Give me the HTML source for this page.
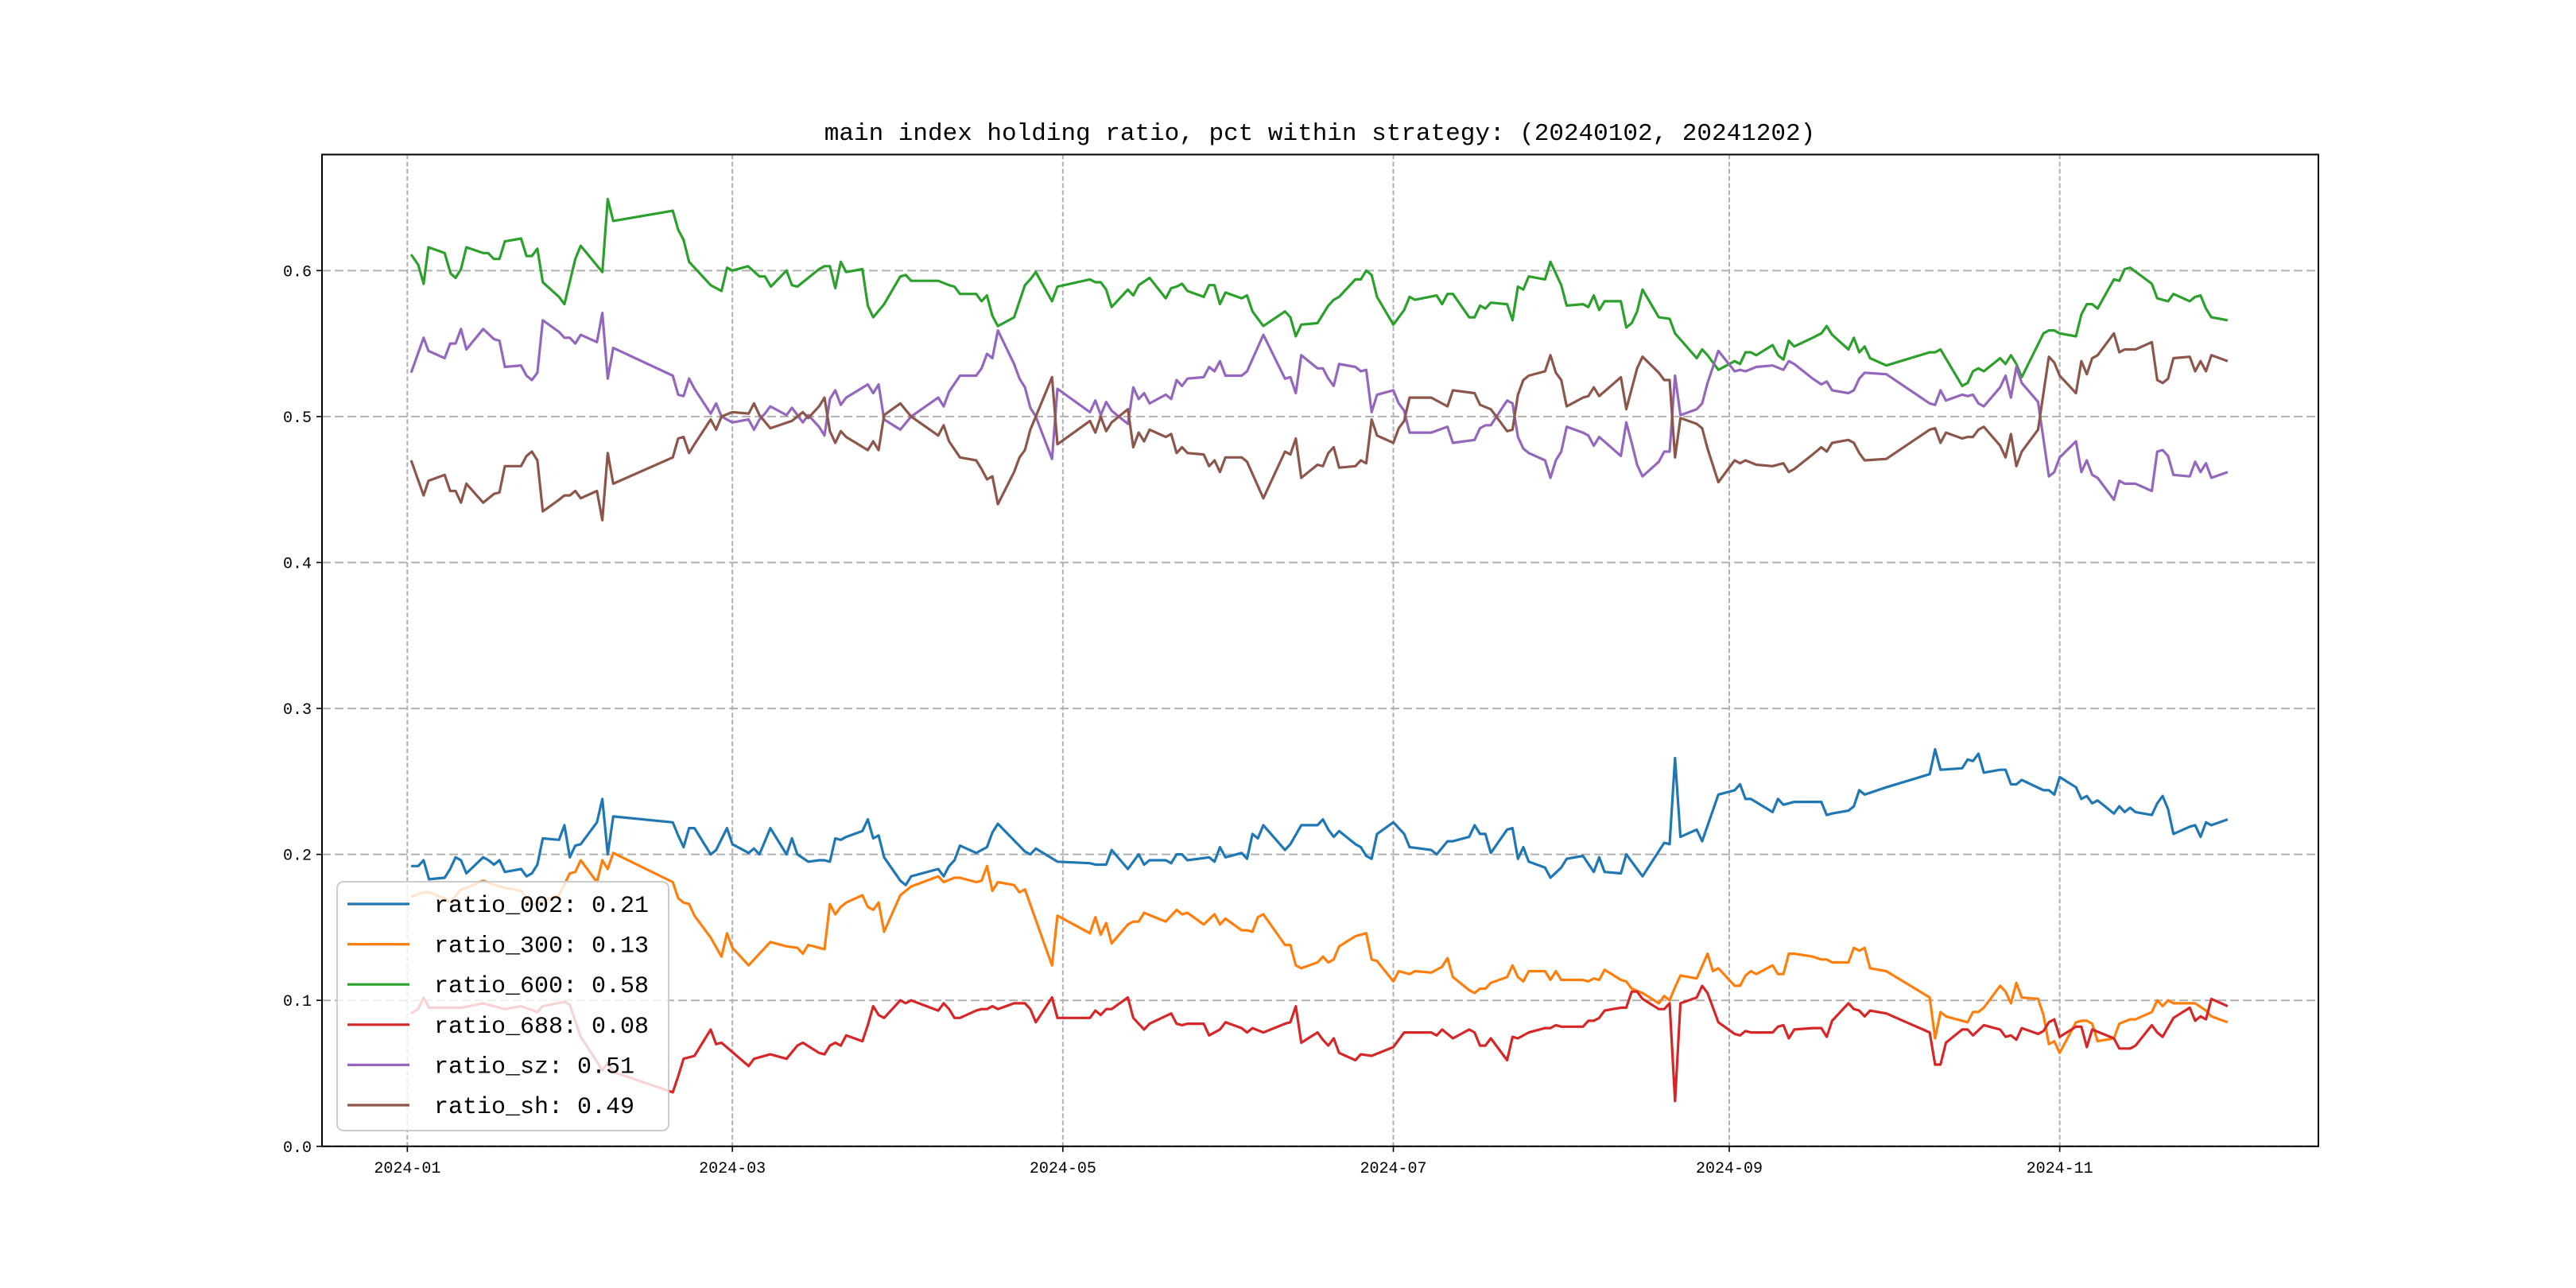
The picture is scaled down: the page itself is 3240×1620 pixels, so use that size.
<!DOCTYPE html>
<html><head><meta charset="utf-8"><style>
html,body{margin:0;padding:0;background:#fff;}
svg{display:block;}
text{font-family:"Liberation Mono","WenQuanYi Zen Hei",monospace;fill:#000;}
</style></head><body>
<svg id="chart" width="3240" height="1620" viewBox="0 0 3240 1620" xmlns="http://www.w3.org/2000/svg">
<rect width="3240" height="1620" fill="#fff"/>
<text x="1660" y="176" font-size="31" text-anchor="middle">main index holding ratio, pct within strategy: (20240102, 20241202)</text>
<g id="grid"></g><g id="series"></g><g id="axes"></g><g id="legend"></g>
</svg>
<script>
// day offsets since 2024-01-01
const yTicks = [0, 0.1, 0.2, 0.3, 0.4, 0.5, 0.6];
const yTickLabels = ["0.0","0.1","0.2","0.3","0.4","0.5","0.6"];
const xTicks = [0, 60, 121, 182, 244, 305];
const xTickLabels = ["2024-01","2024-03","2024-05","2024-07","2024-09","2024-11"];
const seriesNames = ["ratio_002","ratio_300","ratio_600","ratio_688","ratio_sz","ratio_sh"];
const legendValues = ["0.21","0.13","0.58","0.08","0.51","0.49"];

const d002 = [0.7,2,3,4,6.9,7.9,8.9,9.9,10.9,14,15,16,17,18,21,22,23,24,25,28,29,30,31,32,35,36,37,38,49,50,51,52,53,56,57,59,60,63,64,65,67,70,71,72,74,76,77,78,79,80,81,84,85,86,87,88,91,92,93,98,99,100,101,102,105,106,107,108,109,114,115,116,120,126,127,129,130,133,135,136,137,140,141,142,143,144,148,149,150,151,154,155,156,157,158,162,163,165,168,169,170,171,172,175,176,177,178,179,182,184,185,189,190,192,193,196,197,198,199,200,203,204,205,206,207,210,211,213,214,217,219,220,221,224,225,227,228,232,233,234,235,238,239,242,245,246,247,248,252,253,254,256,259.4,261,262,263,266,267,268,269,273,281,282,283,287,288,289,290,291,294,295,296,297,298,302,303,304,305,308,309,310,311,312,315,316,317,318,319,322,323,324,325,326,329,330,331,332,333,336];
const v002 = [.192,.192,.196,.183,.184,.190,.198,.196,.187,.198,.196,.193,.196,.188,.190,.185,.187,.193,.211,.210,.220,.198,.206,.207,.222,.238,.200,.226,.222,.213,.205,.218,.218,.200,.203,.218,.207,.201,.204,.200,.218,.200,.211,.200,.195,.196,.196,.195,.211,.210,.212,.216,.224,.211,.213,.198,.182,.179,.185,.190,.185,.192,.196,.206,.201,.203,.205,.215,.221,.202,.200,.204,.195,.194,.193,.193,.203,.190,.200,.193,.196,.196,.194,.200,.200,.196,.198,.195,.205,.198,.201,.197,.214,.211,.220,.203,.207,.220,.220,.224,.217,.212,.216,.207,.205,.199,.197,.214,.222,.214,.205,.203,.200,.209,.209,.212,.220,.214,.214,.201,.217,.218,.197,.205,.195,.191,.184,.191,.197,.199,.188,.198,.188,.187,.200,.190,.185,.208,.207,.266,.212,.217,.209,.241,.244,.248,.238,.238,.229,.238,.234,.236,.236,.236,.227,.228,.230,.233,.244,.241,.246,.255,.272,.258,.259,.265,.264,.269,.256,.258,.258,.248,.248,.251,.244,.244,.241,.253,.246,.238,.240,.235,.237,.228,.233,.229,.232,.229,.227,.235,.240,.231,.214,.219,.220,.212,.222,.220,.224];

const d300 = [0.7,3,4,6.9,7.9,9.9,10.9,14,17,21,23,25,28,30,31,32,35,36,37,38,49,50,51,52,53,56,58,59,60,63,64,67,70,72,73,74,76,77,78,79,80,81,84,85,86,87,88,91,93,98,99,101,102,105,106,107,108,109,112,113,114,119,120,126,127,128,129,130,133,134,135,136,140,142,143,144,147,149,150,151,154,155,156,157,158,162,163,164,165,168,169,170,171,172,175,177,178,179,182,183,185,186,189,191,192,193,196,197,198,199,200,203,204,205,206,207,210,211,212,213,217,218,219,220,221,224,225,226,228,231,232,233,234,235,238,240,241,242,245,246,247,248,249,252,253,254,255,256,259.4,261,262,263,266,267,268,269,270,273,281,282,283,284,287,288,289,290,291,294,295,296,297,298,301,302,303,304,305,308,309,310,311,312,315,316,318,319,322,323,324,325,326,329,330,332,333,336];
const v300 = [.171,.174,.174,.170,.167,.176,.177,.182,.178,.175,.165,.168,.172,.187,.188,.196,.181,.196,.190,.201,.181,.170,.167,.166,.158,.143,.130,.146,.136,.124,.128,.140,.137,.136,.132,.138,.136,.135,.166,.159,.164,.167,.172,.164,.162,.167,.147,.172,.178,.185,.181,.184,.184,.181,.182,.192,.175,.181,.179,.174,.176,.124,.158,.146,.157,.145,.153,.139,.152,.154,.154,.160,.154,.162,.159,.160,.152,.159,.152,.156,.148,.148,.147,.157,.159,.138,.138,.124,.122,.126,.130,.126,.128,.137,.144,.146,.128,.127,.113,.120,.118,.120,.119,.123,.129,.116,.107,.105,.108,.108,.112,.116,.124,.116,.113,.120,.120,.114,.120,.114,.114,.113,.115,.114,.121,.114,.113,.108,.105,.098,.103,.100,.109,.117,.115,.132,.120,.122,.110,.110,.117,.120,.118,.124,.118,.118,.132,.132,.130,.128,.128,.126,.126,.136,.134,.136,.122,.120,.102,.074,.092,.089,.086,.085,.092,.092,.095,.110,.106,.098,.112,.102,.101,.090,.070,.072,.064,.085,.086,.086,.084,.072,.074,.084,.087,.087,.092,.100,.096,.100,.098,.098,.098,.093,.089,.085];

const d600 = [0.7,2,3,3.9,6.9,8,8.9,9.9,10.9,14,14.9,16,17,18,21,22,23,24,25,28,29,31,32,36,37,38,49,50,51,52,56,58,59,60,62.9,65,66,67.1,70,71,72,74,76,77,78,79,80,81,84,85,86,88,91,92,93,98,100,101,102,105,106,107,108,109,112,114,115,116,119,120,126,127,128,129,130,133,134,135,137,140,141,142,143,144,147,148,149,150,151,154,155,156,158,162,163,164,165,168,170,171,172,175,176,177,178,179,182,184,185,186,190,191,192,193,196,197,198,199,200,203,204,205,206,207,210,211,213,214,217,218,219,220,221,224,225,226,227,228,231,233,234,238,239,240,242,245,246,247,248,249,252,253,254,255,256,259.4,261,262,263,266,267,268,269,270,273,281,282,283,287,288,289,290,291,294,295,296,297,298,302,303,304,305,308,309,310,311,312,315,316,317,318,322,323,325,326,329,330,331,332,333,336];
const v600 = [.611,.604,.591,.616,.612,.598,.595,.601,.616,.612,.612,.608,.608,.620,.622,.610,.610,.615,.592,.582,.577,.608,.617,.599,.649,.634,.641,.628,.621,.606,.590,.586,.602,.600,.603,.596,.596,.589,.600,.590,.589,.595,.601,.603,.603,.588,.606,.599,.601,.576,.568,.577,.596,.597,.593,.593,.590,.589,.584,.584,.579,.583,.569,.562,.568,.590,.594,.599,.579,.589,.594,.592,.592,.587,.575,.587,.583,.590,.595,.581,.588,.589,.591,.586,.582,.590,.590,.577,.585,.581,.583,.572,.562,.572,.568,.555,.563,.564,.576,.580,.582,.594,.594,.600,.597,.582,.563,.573,.582,.580,.583,.577,.584,.584,.568,.568,.576,.574,.578,.577,.566,.589,.587,.596,.594,.606,.590,.576,.577,.575,.583,.573,.579,.579,.561,.564,.572,.587,.568,.567,.557,.540,.546,.542,.532,.538,.536,.544,.544,.542,.549,.542,.539,.552,.548,.554,.557,.562,.556,.546,.554,.544,.548,.540,.535,.544,.544,.546,.521,.523,.531,.533,.531,.540,.536,.542,.536,.527,.557,.559,.559,.557,.555,.570,.577,.577,.574,.594,.593,.601,.602,.591,.581,.579,.584,.579,.582,.583,.574,.568,.566];

const d688 = [0.7,2,3,4,6.9,10,14,18,21,24,25,29,30,32,35,36,37,38,49,50,51,53,56,57,58,63,64,67,70,72,73,76,77,78,79,80,81,84,85,86,87,88,91,92,93,98,99,100,101,102,105,106,107,108,109,112,114,115,116,119,120,126,127,128,129,130,133,134,136,137,141,142,143,144,147,148,150,151,154,155,156,158,162,163,164,165,168,169,170,171,172,175,176,178,182,184,189,190,191,192,193,196,197,198,199,200,203,204,205,207,210,211,212,213,217,218,219,220,221,224,225,226,227,228,231,232,233,234,235,238,239,240,242,245,246,247,248,252,253,254,255,256,259.4,261,262,263,266,267,268,269,270,273,281,282,283,284,287,288,289,291,294,295,296,297,298,301,302,303,304,305,308,309,310,311,315,316,318,319,322,323,324,326,329,330,331,332,333,336];
const v688 = [.091,.094,.102,.095,.095,.095,.098,.094,.096,.092,.096,.099,.097,.075,.058,.052,.057,.051,.037,.048,.060,.062,.080,.070,.071,.055,.060,.063,.060,.069,.071,.064,.063,.069,.071,.069,.076,.072,.083,.096,.090,.088,.100,.098,.100,.093,.098,.094,.088,.088,.093,.094,.094,.096,.094,.098,.098,.094,.085,.102,.088,.088,.093,.090,.094,.094,.102,.088,.080,.084,.091,.084,.083,.084,.084,.076,.080,.085,.081,.078,.081,.078,.084,.085,.096,.071,.078,.073,.069,.074,.064,.059,.063,.062,.068,.078,.078,.076,.080,.077,.074,.080,.078,.069,.069,.074,.059,.075,.074,.078,.081,.081,.083,.082,.082,.086,.086,.088,.093,.095,.095,.106,.106,.101,.094,.094,.098,.031,.098,.102,.110,.105,.085,.077,.076,.079,.078,.078,.082,.083,.074,.080,.081,.081,.075,.086,.098,.094,.093,.089,.093,.091,.078,.056,.056,.071,.080,.080,.076,.083,.080,.075,.076,.073,.081,.077,.079,.085,.087,.075,.082,.082,.068,.080,.074,.067,.067,.069,.083,.078,.075,.088,.095,.086,.089,.087,.101,.096];

const dSz = [0.7,3,3.9,6.9,7.9,8.9,9.9,10.9,14,16,17,18,21,22,23,24,25,28,29,30,31,32,35,36,37,38,49,50,51,52,53,56,57,58,60,63,64,65,66,67,70,71,73,74,76,77,78,79,80,81,85,86,87,88,91,93,98,99,100,102,105,106,107,108,109,112,113,114,115,116,119,120,126,127,128,129,130,133,134,135,136,137,140,141,142,143,144,147,148,149,150,151,154,155,158,162,163,164,165,168,169,170,171,172,175,176,177,178,179,182,183,184,185,189,192,193,197,198,199,200,203,204,205,206,207,210,211,212,213,214,217,218,219,220,224,225,226,227,228,231,232,233,234,235,238,239,240,242,245,246,247,249,252,254,255,256,259.4,261,262,263,266,267,268,269,273,281,282,283,284,287,288,289,290,291,294,295,296,297,298,301,303,304,305,308,309,310,311,312,315,316,317,319,322,323,324,325,326,329,330,331,332,333,336];
const vSz = [.530,.554,.545,.540,.550,.550,.560,.546,.560,.553,.552,.534,.535,.528,.525,.530,.566,.558,.554,.554,.550,.556,.551,.571,.526,.547,.528,.515,.514,.526,.519,.502,.509,.500,.496,.498,.491,.498,.502,.507,.501,.506,.496,.501,.493,.487,.512,.518,.508,.513,.522,.516,.522,.498,.491,.500,.513,.507,.517,.528,.528,.533,.543,.540,.559,.536,.526,.520,.506,.500,.471,.519,.503,.511,.501,.510,.504,.495,.520,.512,.516,.509,.515,.512,.525,.521,.526,.527,.534,.531,.538,.528,.528,.531,.556,.526,.527,.516,.542,.533,.533,.526,.521,.536,.534,.531,.532,.503,.515,.518,.509,.504,.489,.489,.493,.482,.484,.492,.494,.494,.511,.509,.486,.478,.475,.470,.458,.470,.476,.493,.489,.487,.480,.486,.473,.496,.482,.467,.459,.469,.476,.476,.528,.501,.505,.509,.523,.545,.531,.532,.531,.534,.535,.532,.538,.536,.526,.522,.524,.518,.516,.518,.526,.530,.529,.509,.508,.518,.511,.515,.514,.515,.509,.507,.520,.528,.513,.534,.523,.510,.459,.462,.472,.483,.462,.470,.460,.458,.443,.456,.454,.454,.449,.476,.477,.473,.460,.459,.469,.462,.468,.458,.462];

const dSh = [0.7,3,3.9,6.9,7.9,8.9,9.9,10.9,14,16,17,18,21,22,23,24,25,28,29,30,31,32,35,36,37,38,49,50,51,52,53,56,57,58,60,63,64,65,67,71,73,74,76,77,78,79,80,81,85,86,87,88,91,93,98,99,100,102,105,106,107,108,109,112,113,114,115,116,119,120,126,127,128,129,130,133,134,135,136,137,140,141,142,143,144,147,148,149,150,151,154,155,158,162,163,164,165,168,169,170,171,172,175,176,177,178,179,182,183,184,185,189,192,193,197,198,200,203,204,205,206,207,210,211,212,213,214,217,218,219,220,224,225,226,227,228,231,232,233,234,235,238,239,240,242,245,246,247,249,252,254,255,256,259.4,261,262,263,266,267,268,269,273,281,282,283,284,287,288,289,290,291,294,295,296,297,298,301,303,304,305,308,309,310,311,312,315,316,317,319,322,323,324,325,326,329,330,331,332,333,336];
const vSh = [.470,.446,.456,.460,.449,.449,.441,.454,.441,.447,.448,.466,.466,.473,.476,.470,.435,.443,.446,.446,.449,.444,.449,.429,.475,.454,.472,.485,.486,.475,.481,.498,.491,.500,.503,.502,.509,.501,.492,.497,.503,.499,.507,.513,.490,.482,.490,.486,.477,.483,.477,.501,.509,.500,.487,.494,.483,.472,.470,.464,.457,.459,.440,.462,.472,.477,.491,.500,.527,.481,.497,.489,.500,.490,.496,.505,.479,.489,.483,.491,.486,.488,.475,.479,.475,.474,.466,.470,.462,.472,.472,.469,.444,.476,.474,.485,.458,.467,.466,.475,.479,.465,.466,.470,.468,.498,.487,.482,.492,.497,.513,.513,.507,.518,.516,.508,.505,.490,.491,.515,.525,.528,.531,.542,.530,.525,.507,.513,.514,.520,.514,.527,.505,.519,.533,.541,.530,.525,.525,.472,.499,.495,.492,.478,.455,.470,.468,.470,.467,.466,.468,.462,.464,.474,.479,.476,.482,.484,.482,.475,.470,.471,.491,.492,.482,.489,.485,.486,.486,.491,.493,.480,.472,.488,.466,.476,.491,.541,.537,.528,.516,.538,.529,.540,.542,.557,.544,.546,.546,.551,.525,.523,.526,.540,.541,.531,.538,.531,.542,.538];

const seriesDays = [d002, d300, d600, d688, dSz, dSh];
const seriesVals = [v002, v300, v600, v688, vSz, vSh];
const colors = ["#1f77b4","#ff7f0e","#2ca02c","#d62728","#9467bd","#8c564b"];

const NS = "http://www.w3.org/2000/svg";
const L = 405, R = 2916, T = 194.4, B = 1441.8;
const xMin = -15.75, xMax = 352.75, yMin = 0, yMax = 0.6795;
function xs(d){ return L + (d - xMin) / (xMax - xMin) * (R - L); }
function ys(v){ return B - (v - yMin) / (yMax - yMin) * (B - T); }
function mk(tag, attrs, parent){
  const e = document.createElementNS(NS, tag);
  for (const k in attrs) e.setAttribute(k, attrs[k]);
  parent.appendChild(e);
  return e;
}
const grid = document.getElementById('grid');
const axes = document.getElementById('axes');
const sg = document.getElementById('series');
const lg = document.getElementById('legend');

yTicks.forEach((t, i) => {
  const y = ys(t);
  const gl = mk('line', {x1:L, x2:R, y1:y, y2:y, stroke:'#b0b0b0', 'stroke-width':2, 'stroke-dasharray':'11,5'}, grid);
  
  
  const tk = mk('line', {x1:L-7, x2:L, y1:y, y2:y, stroke:'#000', 'stroke-width':1.6}, axes);
  
  
  const tx = mk('text', {x:L-13, y:y+7, 'font-size':20, 'text-anchor':'end'}, axes);
  tx.textContent = yTickLabels[i];
  
  
});
xTicks.forEach((t, i) => {
  const x = xs(t);
  const gl = mk('line', {x1:x, x2:x, y1:T, y2:B, stroke:'#b0b0b0', 'stroke-width':2, 'stroke-dasharray':'6,3'}, grid);
  
  
  const tk = mk('line', {x1:x, x2:x, y1:B, y2:B+7, stroke:'#000', 'stroke-width':1.6}, axes);
  
  
  const tx = mk('text', {x:x, y:B+33, 'font-size':20, 'text-anchor':'middle'}, axes);
  tx.textContent = xTickLabels[i];
  
  
});
const frame = mk('rect', {x:L, y:T, width:R-L, height:B-T, fill:'none', stroke:'#000', 'stroke-width':2}, axes);



seriesNames.forEach((name, i) => {
  const pts = seriesDays[i].map((d, j) => xs(d).toFixed(1) + ',' + ys(seriesVals[i][j]).toFixed(1)).join(' ');
  const pl = mk('polyline', {points:pts, fill:'none', stroke:colors[i], 'stroke-width':3.2, 'stroke-linejoin':'round'}, sg);
  
  
});

const box = mk('rect', {x:424, y:1109, width:417, height:313, rx:8, fill:'#fff', 'fill-opacity':0.8, stroke:'#cccccc', 'stroke-width':2}, lg);


seriesNames.forEach((name, i) => {
  const y = 1137 + i * 50.6;
  const ln = mk('line', {x1:437, x2:515, y1:y, y2:y, stroke:colors[i], 'stroke-width':3.2}, lg);
  
  
  const tx = mk('text', {x:546, y:y+10, 'font-size':30}, lg);
  tx.textContent = name + ': ' + legendValues[i];
  
  
});
</script>
</body></html>
